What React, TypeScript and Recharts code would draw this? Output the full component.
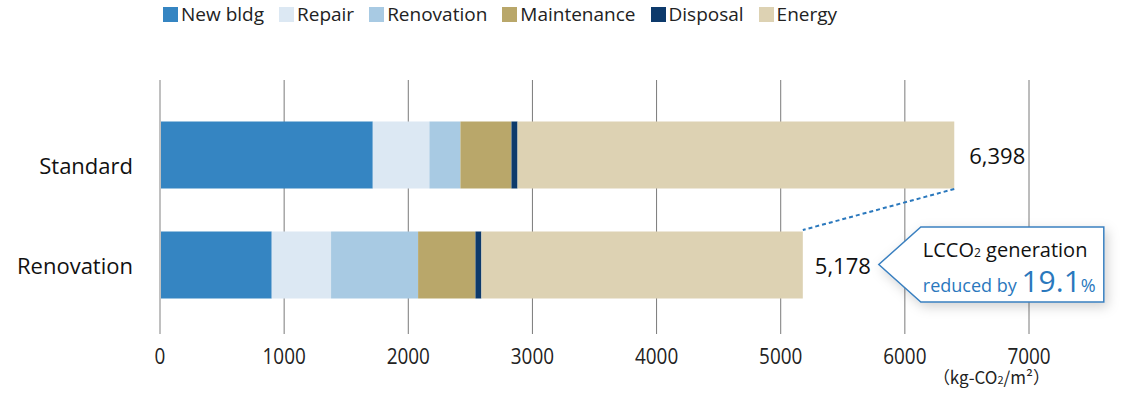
import React from "react";
import {
  BarChart,
  Bar,
  XAxis,
  YAxis,
  CartesianGrid,
  LabelList,
  ReferenceLine,
  ReferenceDot,
} from "recharts";

const categories = ["Standard", "Renovation"];
const seriesKeys = ["newBldg", "repair", "renovation", "maintenance", "disposal", "energy"];
const seriesNames = ["New bldg", "Repair", "Renovation", "Maintenance", "Disposal", "Energy"];
const seriesColors = ["#3585c2", "#dce8f3", "#a8cae3", "#b9a76a", "#0d3a6b", "#ddd2b3"];

const newBldg = [1714, 900];
const repair = [456, 478];
const renovation = [250, 701];
const maintenance = [411, 462];
const disposal = [49, 48];
const energy = [3518, 2589];

const xTicks = [0, 1000, 2000, 3000, 4000, 5000, 6000, 7000];

const seriesValues = [newBldg, repair, renovation, maintenance, disposal, energy];
const totals = categories.map((_, i) => seriesValues.reduce((s, arr) => s + arr[i], 0));
const reduction = (((totals[0] - totals[1]) / totals[0]) * 100).toFixed(1);

const data = categories.map((name, i) => {
  const row: Record<string, string | number> = { name };
  seriesKeys.forEach((k, j) => (row[k] = seriesValues[j][i]));
  return row;
});

const FONT = "'Open Sans', 'Noto Sans', sans-serif";
const JP = "'Noto Sans CJK JP', 'Open Sans', sans-serif";
const BLUE = "#2a78bd";
const BAR = 67;

// the category labels in the original sit a bit off the bar centres
const CategoryTick = (props: any) => {
  const { x, y, payload, index } = props;
  const shift = index === 0 ? 10 : 0;
  return (
    <text
      x={x}
      y={y + shift}
      textAnchor="end"
      dominantBaseline="central"
      fontFamily={FONT}
      fontSize={22}
      fill="#111"
    >
      {payload.value}
    </text>
  );
};

const NumberTick = (props: any) => {
  const { x, y, payload } = props;
  return (
    <text
      transform={`translate(${x},${y + 15}) scale(0.86,1)`}
      textAnchor="middle"
      fontFamily={FONT}
      fontSize={22}
      fill="#222"
    >
      {payload.value}
    </text>
  );
};

const TotalLabel = (props: any) => {
  const { x, y, width, height, index } = props;
  return (
    <text
      x={x + width + (index === 0 ? 15 : 12)}
      y={y + height / 2}
      dominantBaseline="central"
      fontFamily={FONT}
      fontSize={22}
      fill="#111"
    >
      {totals[index].toLocaleString("en-US")}
    </text>
  );
};

const Connector = (props: any) => {
  const { x1, y1, x2, y2 } = props;
  return (
    <line
      x1={x1}
      y1={y1 + BAR / 2 + 1}
      x2={x2}
      y2={y2 - BAR / 2 - 1}
      stroke={BLUE}
      strokeWidth={2}
      strokeDasharray="4 3"
    />
  );
};

const Callout = (props: any) => {
  const { cx, cy } = props;
  const p = cx + 76;
  const l = cx + 118;
  const r = cx + 301;
  const t = cy - 37.5;
  const b = cy + 37.5;
  return (
    <g>
      <defs>
        <filter id="calloutShadow" x="-20%" y="-30%" width="150%" height="180%">
          <feDropShadow dx="3" dy="4" stdDeviation="6" floodColor="#000" floodOpacity="0.18" />
        </filter>
      </defs>
      <path
        d={`M${l},${t} L${r},${t} L${r},${b} L${l},${b} L${p},${cy} Z`}
        fill="#fff"
        stroke="#3a80c0"
        strokeWidth={1.5}
        filter="url(#calloutShadow)"
      />
      <text x={l + 2} y={cy - 8} fontFamily={FONT} fontSize={20} fill="#111">
        LCCO<tspan fontSize={12}>2</tspan> generation
      </text>
      <text x={l + 2} y={cy + 27} fontFamily={FONT} fill={BLUE}>
        <tspan fontSize={18}>reduced by </tspan>
        <tspan fontSize={30}>{reduction}</tspan>
        <tspan fontSize={18}>%</tspan>
      </text>
    </g>
  );
};

const UnitLabel = (props: any) => {
  const { viewBox } = props;
  return (
    <text
      x={viewBox.x + viewBox.width + 21}
      y={viewBox.y + 50}
      textAnchor="end"
      fontFamily={JP}
      fontSize={17}
      fill="#222"
    >
      （kg-CO<tspan fontSize={11}>2</tspan>/m²）
    </text>
  );
};

export default function App() {
  return (
    <div style={{ position: "absolute", left: 0, top: 0, width: 1140, height: 400, background: "#fff" }}>
      <div
        style={{
          position: "absolute",
          left: 163,
          top: 0,
          height: 28,
          display: "flex",
          alignItems: "center",
          fontFamily: FONT,
          fontSize: 19,
          color: "#222",
          whiteSpace: "nowrap",
        }}
      >
        {seriesNames.map((n, i) => (
          <span key={n} style={{ display: "flex", alignItems: "center", marginRight: 15 }}>
            <span style={{ width: 15, height: 15, background: seriesColors[i], marginRight: 3 }} />
            {n}
          </span>
        ))}
      </div>
      <BarChart
        width={1140}
        height={400}
        data={data}
        layout="vertical"
        margin={{ top: 80, right: 111, bottom: 0, left: 10 }}
      >
        <CartesianGrid horizontal={false} stroke="#7a7a7a" strokeWidth={1} />
        <XAxis
          type="number"
          domain={[0, 7000]}
          ticks={xTicks}
          interval={0}
          height={66}
          axisLine={false}
          tickLine={false}
          tickSize={0}
          tickMargin={15}
          tick={<NumberTick />}
          label={<UnitLabel />}
        />
        <YAxis
          type="category"
          dataKey="name"
          width={150}
          padding={{ top: 19.5, bottom: 14.5 }}
          axisLine={{ stroke: "#c0c0c0", strokeWidth: 2 }}
          tickLine={false}
          tickSize={0}
          tickMargin={27}
          tick={<CategoryTick />}
        />
        {seriesKeys.map((k, i) => (
          <Bar
            key={k}
            dataKey={k}
            name={seriesNames[i]}
            stackId="a"
            fill={seriesColors[i]}
            barSize={BAR}
            isAnimationActive={false}
          >
            {i === seriesKeys.length - 1 && <LabelList content={<TotalLabel />} />}
          </Bar>
        ))}
        <ReferenceLine
          segment={[
            { x: totals[0], y: categories[0] },
            { x: totals[1], y: categories[1] },
          ]}
          ifOverflow="visible"
          shape={<Connector />}
        />
        <ReferenceDot x={totals[1]} y={categories[1]} ifOverflow="visible" shape={<Callout />} />
      </BarChart>
    </div>
  );
}
